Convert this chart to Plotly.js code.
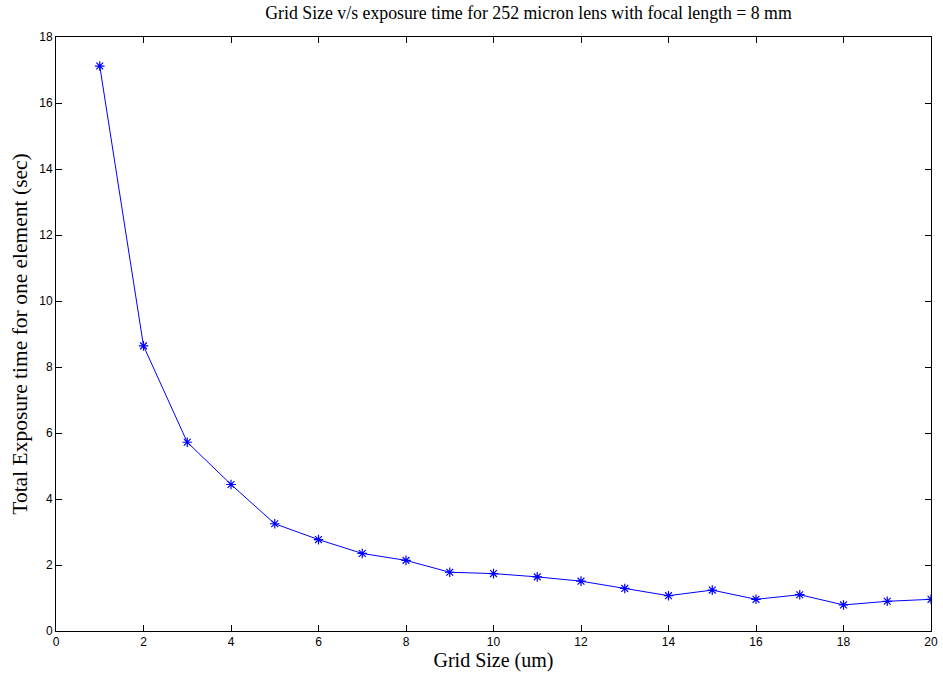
<!DOCTYPE html>
<html>
<head>
<meta charset="utf-8">
<script src="https://cdn.plot.ly/plotly-3.0.1.min.js"></script>
<style>html,body{margin:0;padding:0;background:#fff;}#chart{width:943px;height:679px;}</style>
</head>
<body>
<div id="chart"></div>
<script>
const gridSize = [1,2,3,4,5,6,7,8,9,10,11,12,13,14,15,16,17,18,19,20];
const exposureTime = [17.12,8.64,5.72,4.44,3.25,2.77,2.35,2.14,1.78,1.74,1.64,1.51,1.29,1.07,1.24,0.96,1.10,0.79,0.90,0.96];
const xTicks = [0,2,4,6,8,10,12,14,16,18,20];
const yTicks = [0,2,4,6,8,10,12,14,16,18];

const trace = {
  x: gridSize, y: exposureTime, type: 'scatter', mode: 'lines+markers',
  line: {color: '#0000ff', width: 1},
  marker: {symbol: 'asterisk-open', size: 8, color: '#0000ff', line: {color: '#0000ff', width: 1.2}},
  hoverinfo: 'x+y'
};

const axisCommon = {
  showgrid: false, zeroline: false, showline: true, mirror: 'ticks',
  linecolor: '#000', linewidth: 1, ticks: 'inside', ticklen: 6, tickcolor: '#000',
  tickfont: {family: 'Liberation Sans, Arial, sans-serif', size: 12, color: '#000'}
};

const layout = {
  width: 943, height: 679,
  margin: {l: 56, r: 12, t: 37, b: 48},
  paper_bgcolor: '#fff', plot_bgcolor: '#fff',
  showlegend: false,
  title: {text: 'Grid Size v/s exposure time for 252 micron lens with focal length = 8 mm',
    font: {family: 'Liberation Serif, Times New Roman, serif', size: 17.8, color: '#000'},
    xref: 'paper', x: 0.54, xanchor: 'center', yref: 'container', y: 0.981, yanchor: 'middle'},
  xaxis: Object.assign({}, axisCommon, {range: [0, 20], tickvals: xTicks,
    title: {text: 'Grid Size (um)', font: {family: 'Liberation Serif, Times New Roman, serif', size: 20, color: '#000'}, standoff: 3}}),
  yaxis: Object.assign({}, axisCommon, {range: [0, 18], tickvals: yTicks,
    title: {text: 'Total Exposure time for one element (sec)', font: {family: 'Liberation Serif, Times New Roman, serif', size: 21.5, color: '#000'}, standoff: 5}})
};

Plotly.newPlot('chart', [trace], layout, {displayModeBar: false, staticPlot: true});
</script>
</body>
</html>
